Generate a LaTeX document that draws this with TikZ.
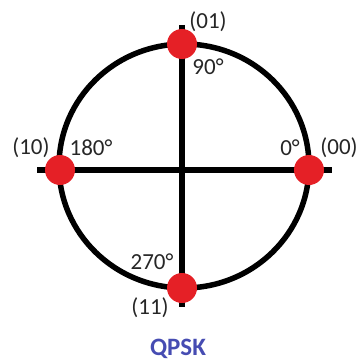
\documentclass[tikz,border=0pt]{standalone}
\usepackage{fontspec}
\setmainfont{Carlito}
\usepackage{xcolor}
\usetikzlibrary{positioning}
\definecolor{dotred}{RGB}{229,32,38}
\definecolor{titleblue}{RGB}{70,76,178}
\tikzset{
  axis/.style={line width=5.5pt,black},
  dot/.style={circle,fill=dotred,minimum size=30pt,inner sep=0pt},
  lbl/.style={font=\fontsize{23}{27}\selectfont,text=black!85,inner sep=0pt}
}

\begin{document}
\begin{tikzpicture}[x=1pt,y=-1pt]
      \useasboundingbox (0,0) rectangle (360,361);
      % axes and circle
      \coordinate (xl) at (37,170);
      \coordinate (xr) at (332,170);
      \coordinate (yt) at (182,25);
      \coordinate (yb) at (182,307);
      \draw[axis] (xl) -- (xr);
      \draw[axis] (yt) -- (yb);
      \draw[axis] (184,166) ellipse[x radius=125,y radius=122];
      % constellation points
      \node[dot] (p00) at (309,170) {};
      \node[dot] (p01) at (182,44) {};
      \node[dot] (p10) at (60,170) {};
      \node[dot] (p11) at (182,288) {};
      % labels
      \node[lbl] (l01) at (208,22) {(01)};
      \node[lbl] (a90) at (208,67) {90°};
      \node[lbl] (l10) at (31,148) {(10)};
      \node[lbl] (a180) at (91,148) {180°};
      \node[lbl] (a0) at (290,148) {0°};
      \node[lbl] (l00) at (339,148) {(00)};
      \node[lbl] (a270) at (152,262) {270°};
      \node[lbl] (l11) at (150,308) {(11)};
      \node[font=\fontsize{25}{29}\selectfont\bfseries,text=titleblue,inner sep=0pt] (title) at (178,349) {QPSK};
    \end{tikzpicture}
\end{document}
